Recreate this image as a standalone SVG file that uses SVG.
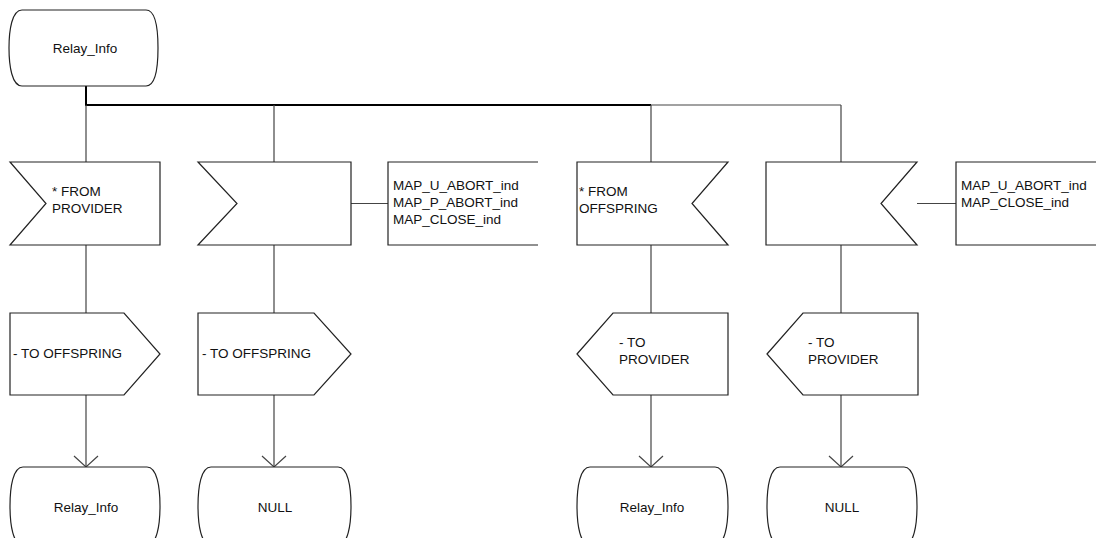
<svg xmlns="http://www.w3.org/2000/svg" width="1096" height="538" viewBox="0 0 1096 538">
<defs>
<style>
.s{fill:#fff;stroke:#222;stroke-width:1.2}
.c{fill:none;stroke:#444;stroke-width:1.2}
.t{font-family:"Liberation Sans",Arial,sans-serif;font-size:13.5px;fill:#111}
.m{text-anchor:middle}
</style>
<marker id="ah" viewBox="0 0 24 26" refX="23" refY="13" markerWidth="24" markerHeight="26" markerUnits="userSpaceOnUse" orient="auto">
<path d="M12 1 L23 13 L12 25" fill="none" stroke="#444" stroke-width="1.2"/>
</marker>
</defs>
<rect width="1096" height="538" fill="#fff"/>
<g id="connectors">
<path d="M86 86 V105 H651" fill="none" stroke="#000" stroke-width="2"/>
<path class="c" d="M651 105 H841"/>
<path class="c" d="M86 105 V162 M86 245 V313"/>
<path class="c" d="M274 105 V162 M274 245 V313"/>
<path class="c" d="M651 105 V162 M651 245 V313"/>
<path class="c" d="M841 105 V162 M841 245 V313"/>
<path class="c" d="M86 395 V467" marker-end="url(#ah)"/>
<path class="c" d="M274 395 V467" marker-end="url(#ah)"/>
<path class="c" d="M651 395 V467" marker-end="url(#ah)"/>
<path class="c" d="M841 395 V467" marker-end="url(#ah)"/>
<path class="c" d="M351 203.5 H388"/>
<path class="c" d="M917 203.5 H956"/>
</g>
<g id="state_top">
<path class="s" d="M22 10 H146 C156 10 158 30 158 48 C158 66 156 86 146 86 H22 C12 86 9 66 9 48 C9 30 12 10 22 10 Z"/>
<text class="t m" x="85" y="53">Relay_Info</text>
</g>
<g id="input1">
<path class="s" d="M10 162 H160 V245 H10 L46 203.5 Z"/>
<text class="t" x="52" y="196">* FROM</text>
<text class="t" x="52" y="213">PROVIDER</text>
</g>
<g id="input2">
<path class="s" d="M198 162 H351 V245 H198 L237 203.5 Z"/>
</g>
<g id="comment2">
<path class="c" d="M538 162 H388 V245 H538" style="stroke:#222"/>
<text class="t" x="393" y="190">MAP_U_ABORT_ind</text>
<text class="t" x="393" y="207">MAP_P_ABORT_ind</text>
<text class="t" x="393" y="224">MAP_CLOSE_ind</text>
</g>
<g id="input3">
<path class="s" d="M577 162 H728 L692 203.5 L728 245 H577 Z"/>
<text class="t" x="579" y="196">* FROM</text>
<text class="t" x="579" y="213">OFFSPRING</text>
</g>
<g id="input4">
<path class="s" d="M766 162 H917 L881 203.5 L917 245 H766 Z"/>
</g>
<g id="comment4">
<path class="c" d="M1100 162 H956 V245 H1100" style="stroke:#222"/>
<text class="t" x="961" y="190">MAP_U_ABORT_ind</text>
<text class="t" x="961" y="207">MAP_CLOSE_ind</text>
</g>
<g id="output1">
<path class="s" d="M10 313 H124 L160 354 L124 395 H10 Z"/>
<text class="t" x="13" y="358">- TO OFFSPRING</text>
</g>
<g id="output2">
<path class="s" d="M198 313 H314 L351 354 L314 395 H198 Z"/>
<text class="t" x="202" y="358">- TO OFFSPRING</text>
</g>
<g id="output3">
<path class="s" d="M577 354 L613 313 H728 V395 H613 Z"/>
<text class="t" x="619" y="347">- TO</text>
<text class="t" x="619" y="364">PROVIDER</text>
</g>
<g id="output4">
<path class="s" d="M767 354 L803 313 H918 V395 H803 Z"/>
<text class="t" x="808" y="347">- TO</text>
<text class="t" x="808" y="364">PROVIDER</text>
</g>
<g id="state1">
<path class="s" d="M23 467 H147 C157 467 160 487 160 506 C160 525 157 545 147 545 H23 C13 545 10 525 10 506 C10 487 13 467 23 467 Z"/>
<text class="t m" x="86" y="512">Relay_Info</text>
</g>
<g id="state2">
<path class="s" d="M211 467 H338 C348 467 351 487 351 506 C351 525 348 545 338 545 H211 C201 545 198 525 198 506 C198 487 201 467 211 467 Z"/>
<text class="t m" x="275" y="512">NULL</text>
</g>
<g id="state3">
<path class="s" d="M590 467 H715 C725 467 728 487 728 506 C728 525 725 545 715 545 H590 C580 545 577 525 577 506 C577 487 580 467 590 467 Z"/>
<text class="t m" x="652" y="512">Relay_Info</text>
</g>
<g id="state4">
<path class="s" d="M780 467 H904 C914 467 917 487 917 506 C917 525 914 545 904 545 H780 C770 545 767 525 767 506 C767 487 770 467 780 467 Z"/>
<text class="t m" x="842" y="512">NULL</text>
</g>
</svg>
